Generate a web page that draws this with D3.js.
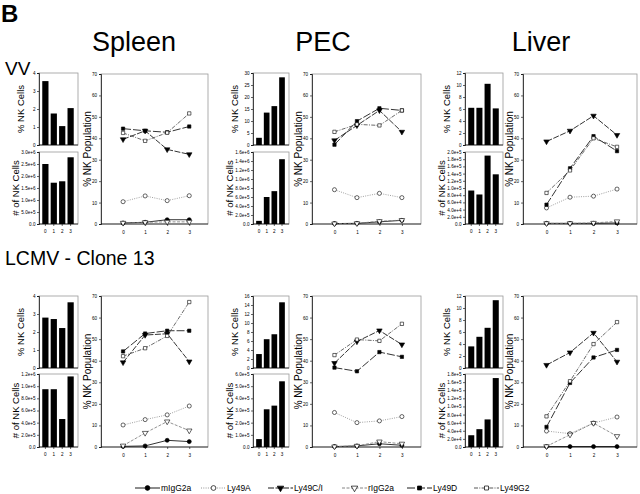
<!DOCTYPE html>
<html><head><meta charset="utf-8">
<script src="https://cdn.jsdelivr.net/npm/d3@7"></script>
<style>body{margin:0;background:#fff}svg{display:block}text{font-family:"Liberation Sans",Arial,sans-serif}</style>
</head><body><svg id="c" width="640" height="494"></svg>
<script>
// ---------- DATA ----------
const days = [0, 1, 2, 3];
const tissues = ["Spleen", "PEC", "Liver"];
const infections = ["VV", "LCMV - Clone 13"];
const seriesNames = ["mIgG2a", "Ly49A", "Ly49C/I", "rIgG2a", "Ly49D", "Ly49G2"];
const popTicks = [0, 10, 20, 30, 40, 50, 60, 70];

// % NK cells / # of NK cells (bars), VV
const vvSpleenPct = [3.55, 1.75, 1.05, 2.05];
const vvSpleenNum = [2.5e6, 1.72e6, 1.78e6, 2.78e6];
const vvPecPct = [3, 13.5, 16.2, 28.2];
const vvPecNum = [0.07e6, 0.6e6, 0.73e6, 1.44e6];
const vvLiverPct = [6.2, 6.2, 10.2, 6.1];
const vvLiverNum = [9.3e4, 8.2e4, 1.9e5, 1.38e5];
// LCMV - Clone 13
const lcSpleenPct = [2.8, 2.72, 2.22, 3.65];
const lcSpleenNum = [9.5e5, 9.5e5, 4.6e5, 1.16e6];
const lcPecPct = [3.1, 6.4, 7.5, 14.6];
const lcPecNum = [0.65e5, 3.1e5, 3.4e5, 5.4e5];
const lcLiverPct = [3.6, 5.2, 6.7, 11.3];
const lcLiverNum = [2.9e4, 4.4e4, 6.8e4, 1.7e5];

// tick values
const spleenPctTicks = [0, 1, 2, 3, 4];
const vvSpleenNumTicks = [0, 5e5, 1e6, 1.5e6, 2e6, 2.5e6, 3e6];
const vvPecPctTicks = [0, 5, 10, 15, 20, 25, 30];
const vvPecNumTicks = [0, 2e5, 4e5, 6e5, 8e5, 1e6, 1.2e6, 1.4e6, 1.6e6];
const liverPctTicks = [0, 2, 4, 6, 8, 10, 12];
const vvLiverNumTicks = [0, 2e4, 4e4, 6e4, 8e4, 1e5, 1.2e5, 1.4e5, 1.6e5, 1.8e5, 2e5];
const lcSpleenNumTicks = [0, 2e5, 4e5, 6e5, 8e5, 1e6, 1.2e6];
const lcPecPctTicks = [0, 2, 4, 6, 8, 10, 12, 14, 16];
const lcPecNumTicks = [0, 1e5, 2e5, 3e5, 4e5, 5e5, 6e5];
const lcLiverNumTicks = [0, 2e4, 4e4, 6e4, 8e4, 1e5, 1.2e5, 1.4e5, 1.6e5, 1.8e5];

// % NK population lines: order mIgG2a, Ly49A, Ly49C/I, rIgG2a, Ly49D, Ly49G2
const vvSpleenLines = [
  [0.5, 0.8, 2, 2],
  [10.4, 13.1, 10.9, 13.2],
  [39.5, 43.5, 34.8, 32.5],
  [0.5, 0.8, 1, 1],
  [44.5, 43.5, 42.8, 45.5],
  [42.5, 38.8, 42.6, 51.6]
];
const vvPecLines = [
  [0.2, 0.3, 1, 1.7],
  [16, 12.3, 14.3, 12.3],
  [39, 46, 53, 43],
  [0.2, 0.3, 1.3, 1.8],
  [37, 48, 54, 53],
  [43, 46.5, 46, 53]
];
const vvLiverLines = [
  [0.3, 0.3, 0.3, 0.5],
  [7.5, 12.5, 13, 16.3],
  [38.5, 43.5, 50.5, 41.5],
  [0.3, 0.3, 0.5, 1.2],
  [9, 26, 41, 34],
  [14.5, 25, 40, 36]
];
const lcSpleenLines = [
  [0.3, 0.5, 3.1, 2.5],
  [10.2, 12.7, 14.9, 19],
  [39.2, 51.9, 52.5, 39.6],
  [0.6, 6.5, 11.8, 7.6],
  [44.3, 52.6, 53.9, 53.9],
  [42.1, 45.8, 51.5, 67.2]
];
const lcPecLines = [
  [0.2, 0.5, 1.5, 0.8],
  [16, 11.3, 12.1, 14.1],
  [38.9, 48.9, 54, 47.5],
  [0.2, 0.5, 2.5, 1.5],
  [36.8, 35.1, 44, 41.8],
  [42.6, 49.8, 49.2, 57.1]
];
const lcLiverLines = [
  [0.2, 0.2, 0.2, 0.2],
  [7.4, 6.2, 11.1, 13.9],
  [38, 43.8, 52.9, 39.5],
  [0.3, 5.7, 11.1, 5],
  [9.3, 29.7, 41.5, 45],
  [14.2, 30.5, 47.7, 57.9]
];

// ---------- STYLES / LAYOUT ----------
const seriesStyle = [
  {stroke: "#000", dash: null, sym: d3.symbolCircle, fill: "#000", rot: 0},
  {stroke: "#888", dash: "1,1.3", sym: d3.symbolCircle, fill: "#fff", rot: 0},
  {stroke: "#000", dash: "6,1.5", sym: d3.symbolTriangle, fill: "#000", rot: 180},
  {stroke: "#777", dash: "3,1.5", sym: d3.symbolTriangle, fill: "#fff", rot: 180},
  {stroke: "#000", dash: "8,2", sym: d3.symbolSquare, fill: "#000", rot: 0},
  {stroke: "#444", dash: "4,1.3,1,1.3", sym: d3.symbolSquare, fill: "#fff", rot: 0}
];
const cols = [
  {bar: [39, 78], line: [101, 208], title: 134},
  {bar: [253, 289], line: [312, 421], title: 323},
  {bar: [465, 503], line: [523, 637], title: 541}
];
const rows = [
  {up: [73, 145], low: [152, 224], line: [74, 224]},
  {up: [296, 368], low: [374, 447], line: [296, 447]}
];

const panels = [
  [
    {pct: vvSpleenPct, pctT: spleenPctTicks, num: vvSpleenNum, numT: vvSpleenNumTicks, lines: vvSpleenLines},
    {pct: vvPecPct, pctT: vvPecPctTicks, num: vvPecNum, numT: vvPecNumTicks, lines: vvPecLines},
    {pct: vvLiverPct, pctT: liverPctTicks, num: vvLiverNum, numT: vvLiverNumTicks, lines: vvLiverLines}
  ],
  [
    {pct: lcSpleenPct, pctT: spleenPctTicks, num: lcSpleenNum, numT: lcSpleenNumTicks, lines: lcSpleenLines},
    {pct: lcPecPct, pctT: lcPecPctTicks, num: lcPecNum, numT: lcPecNumTicks, lines: lcPecLines},
    {pct: lcLiverPct, pctT: liverPctTicks, num: lcLiverNum, numT: lcLiverNumTicks, lines: lcLiverLines}
  ]
];

const svg = d3.select("#c");
const TF = 4.6; // tick font size

const numFmt = v => v === 0 ? "0.0" : d3.format(".1e")(v);

function styleAxis(g) {
  g.selectAll("path").attr("stroke", "#000").attr("stroke-width", 0.7);
  g.selectAll("line").attr("stroke", "#000").attr("stroke-width", 0.6);
  g.selectAll("text").attr("font-size", TF).attr("fill", "#000")
   .attr("font-family", "Liberation Sans, Arial, sans-serif");
}

function frame(x0, x1, y0, y1) {
  svg.append("rect").attr("x", x0).attr("y", y0).attr("width", x1 - x0).attr("height", y1 - y0)
    .attr("fill", "none").attr("stroke", "#999").attr("stroke-width", 0.8);
}

function barChart(xr, yr, values, ticks, fmt, label, showX, labOff) {
  frame(xr[0], xr[1], yr[0], yr[1]);
  const x = d3.scaleBand().domain(days).range([xr[0] + 2, xr[1] - 3]).paddingInner(0.26).paddingOuter(0.15);
  const y = d3.scaleLinear().domain([0, ticks[ticks.length - 1]]).range([yr[1], yr[0]]);
  svg.append("g").selectAll("rect").data(values).join("rect")
    .attr("x", (d, i) => x(days[i])).attr("width", x.bandwidth())
    .attr("y", d => y(d)).attr("height", d => y(0) - y(d)).attr("fill", "#000");
  const ga = svg.append("g").attr("transform", `translate(${xr[0]},0)`)
    .call(d3.axisLeft(y).tickValues(ticks).tickFormat(fmt).tickSize(2).tickPadding(1.5));
  styleAxis(ga);
  const gb = svg.append("g").attr("transform", `translate(0,${yr[1]})`)
    .call(d3.axisBottom(x).tickSize(showX ? 2 : 0).tickPadding(3.5).tickFormat(d => showX ? String(d) : ""));
  styleAxis(gb);
  gb.select("path").attr("d", `M${xr[0]},0H${xr[1]}`);
  svg.append("text").attr("transform", `translate(${xr[0] - labOff},${(yr[0] + yr[1]) / 2}) rotate(-90)`)
    .attr("text-anchor", "middle").attr("font-size", 9.5).text(label);
}

function lineChart(xr, yr, lines) {
  frame(xr[0], xr[1], yr[0], yr[1]);
  const x = d3.scaleLinear().domain([-1, 3.85]).range(xr);
  const y = d3.scaleLinear().domain([0, 70]).range([yr[1], yr[0]]);
  const ga = svg.append("g").attr("transform", `translate(${xr[0]},0)`)
    .call(d3.axisLeft(y).tickValues(popTicks).tickSize(2).tickPadding(2));
  styleAxis(ga);
  const gb = svg.append("g").attr("transform", `translate(0,${yr[1]})`)
    .call(d3.axisBottom(x).tickValues(days).tickFormat(d3.format("d")).tickSize(2).tickPadding(4.5));
  styleAxis(gb);
  gb.select("path").attr("d", `M${xr[0]},0H${xr[1]}`);
  const line = d3.line().x((d, i) => x(days[i])).y(d => y(d));
  lines.forEach((vals, s) => {
    const st = seriesStyle[s];
    svg.append("path").attr("d", line(vals)).attr("fill", "none")
      .attr("stroke", st.stroke).attr("stroke-width", 0.8)
      .attr("stroke-dasharray", st.dash);
  });
  lines.forEach((vals, s) => {
    const st = seriesStyle[s];
    const sym = d3.symbol().type(st.sym).size(st.sym === d3.symbolSquare ? 11 : 13);
    svg.append("g").selectAll("path").data(vals).join("path")
      .attr("d", sym)
      .attr("transform", (d, i) => `translate(${x(days[i])},${y(d)}) rotate(${st.rot})`)
      .attr("fill", st.fill).attr("stroke", "#000").attr("stroke-width", 0.6);
  });
  svg.append("text").attr("transform", `translate(${xr[0] - 10},${(yr[0] + yr[1]) / 2}) rotate(-90)`)
    .attr("text-anchor", "middle").attr("font-size", 10).text("% NK Population");
}

// ---------- DRAW ----------
svg.append("text").attr("x", 1).attr("y", 22).attr("font-size", 24).attr("font-weight", "bold").text("B");
tissues.forEach((t, c) => {
  svg.append("text").attr("x", cols[c].title).attr("y", 51).attr("text-anchor", "middle")
    .attr("font-size", 27).text(t);
});
svg.append("text").attr("x", 5).attr("y", 75).attr("font-size", 19).text(infections[0]);
svg.append("text").attr("x", 5).attr("y", 265).attr("font-size", 19.5).text(infections[1]);

rows.forEach((r, ri) => {
  cols.forEach((c, ci) => {
    const p = panels[ri][ci];
    barChart(c.bar, r.up, p.pct, p.pctT, d3.format("d"), "% NK Cells", false, 15);
    barChart(c.bar, r.low, p.num, p.numT, numFmt, "# of NK Cells", true, 20);
    lineChart(c.line, r.line, p.lines);
  });
});

// ---------- LEGEND ----------
const legStarts = [135, 201, 268, 342, 407, 474];
const legY = 488;
seriesNames.forEach((name, s) => {
  const st = seriesStyle[s];
  const x0 = legStarts[s];
  svg.append("line").attr("x1", x0).attr("x2", x0 + 25).attr("y1", legY).attr("y2", legY)
    .attr("stroke", st.stroke).attr("stroke-width", 0.9).attr("stroke-dasharray", st.dash);
  const sym = d3.symbol().type(st.sym).size(st.sym === d3.symbolSquare ? 16 : 18);
  svg.append("path").attr("d", sym).attr("transform", `translate(${x0 + 12.5},${legY}) rotate(${st.rot})`)
    .attr("fill", st.fill).attr("stroke", "#000").attr("stroke-width", 0.7);
  svg.append("text").attr("x", x0 + 26).attr("y", legY + 2.8).attr("font-size", 8.5)
    .attr("font-family", "Liberation Serif, Times New Roman, serif").text(name);
});
</script></body></html>
